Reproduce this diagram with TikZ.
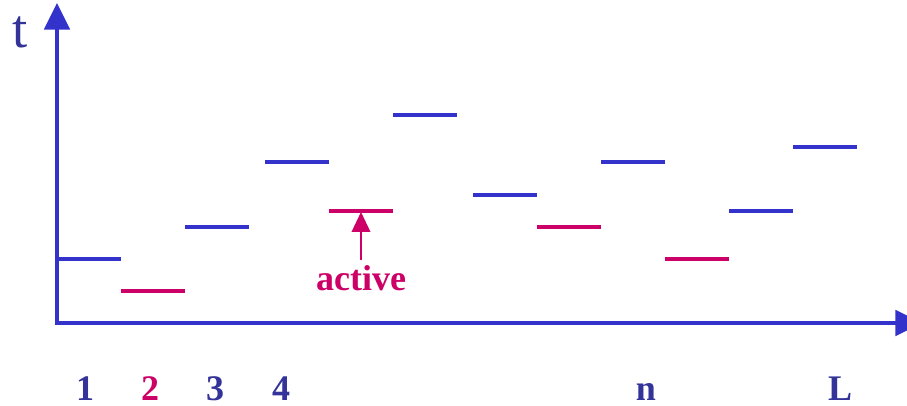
\documentclass[tikz,border=0pt]{standalone}
\usepackage{fontspec}
\setmainfont{Liberation Serif}
\usetikzlibrary{arrows.meta}
\definecolor{lineblue}{RGB}{51,51,204}
\definecolor{textblue}{RGB}{51,51,153}
\definecolor{actmag}{RGB}{204,0,102}
\begin{document}
\begin{tikzpicture}[
  x=0.75pt, y=-0.75pt,
  line cap=butt, line join=miter,
  axisline/.style={draw=lineblue, line width=3pt,
    -{Triangle[length=20pt, width=19pt]}},
  bluebar/.style={draw=lineblue, line width=2.4pt},
  magbar/.style={draw=actmag, line width=2.4pt},
  every node/.style={inner sep=0pt, font=\fontsize{27pt}{27pt}\selectfont\bfseries}
]
  \useasboundingbox (0,0) rectangle (907,406);
  % ---- 坐标轴 ----
  \coordinate (O) at (57,323);
  \coordinate (T) at (57,3);
  \coordinate (X) at (922,323);
  \draw[axisline] (O) -- (T);
  \draw[axisline] ([xshift=-1.5pt]O) -- (X);
  % ---- 各段（蓝色） ----
  \draw[bluebar] ( 57,259) -- (121,259);
  \draw[bluebar] (185,227) -- (249,227);
  \draw[bluebar] (265,162) -- (329,162);
  \draw[bluebar] (393,115) -- (457,115);
  \draw[bluebar] (473,195) -- (537,195);
  \draw[bluebar] (601,162) -- (665,162);
  \draw[bluebar] (729,211) -- (793,211);
  \draw[bluebar] (793,147) -- (857,147);
  % ---- 各段（品红） ----
  \draw[magbar] (121,291) -- (185,291);
  \draw[magbar] (329,211) -- (393,211);
  \draw[magbar] (537,227) -- (601,227);
  \draw[magbar] (665,259) -- (729,259);
  % ---- active 箭头 ----
  \coordinate (Atip) at (361,212);
  \node[anchor=base, text=actmag] (act) at (361,290) {active};
  \draw[draw=actmag, line width=1.1pt, -{Triangle[length=15pt, width=14pt]}]
    (361,260) -- (Atip);
  % ---- 标签 ----
  \node[anchor=base, text=textblue, font=\fontsize{41pt}{41pt}\selectfont] (t) at (20,48) {t};
  \node[anchor=base, text=textblue] (l1) at ( 85,400) {1};
  \node[anchor=base, text=actmag]   (l2) at (150,400) {2};
  \node[anchor=base, text=textblue] (l3) at (215,400) {3};
  \node[anchor=base, text=textblue] (l4) at (281,400) {4};
  \node[anchor=base, text=textblue] (ln) at (646,400) {n};
  \node[anchor=base, text=textblue] (lL) at (840,400) {L};
\end{tikzpicture}
\end{document}
